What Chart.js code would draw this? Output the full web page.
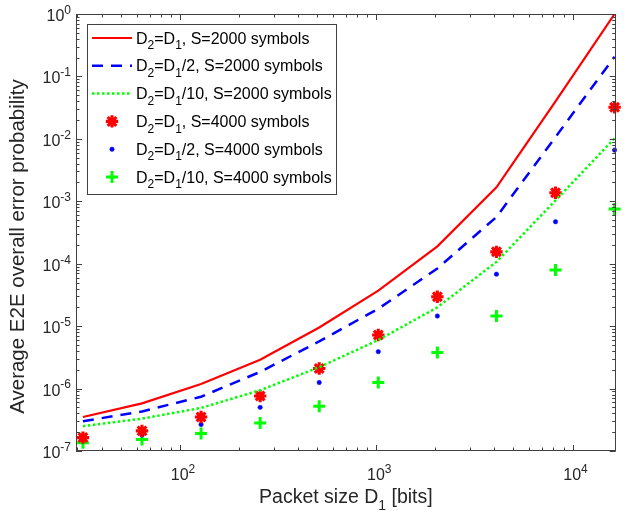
<!DOCTYPE html>
<html>
<head>
<meta charset="utf-8">
<script src="https://cdn.jsdelivr.net/npm/chart.js@4.4.1/dist/chart.umd.min.js"></script>
<style>
html,body{margin:0;padding:0;background:#fff;}
#wrap{width:625px;height:519px;position:relative;}
</style>
</head>
<body>
<div id="wrap"><canvas id="c" width="625" height="519"></canvas></div>
<script>
// ---- data ----
const packetSizes = [32, 64, 128, 256, 512, 1024, 2048, 4096, 8192, 16384];
const s2000Equal  = [3.5e-7, 5.8e-7, 1.18e-6, 2.9e-6, 9.5e-6, 3.7e-5, 1.9e-4, 1.67e-3, 4.0e-2, 1.0];
const s2000Half   = [3.0e-7, 4.3e-7, 7.4e-7, 1.85e-6, 5.7e-6, 1.9e-5, 8.4e-5, 5.6e-4, 1.07e-2, 0.207];
const s2000Tenth  = [2.5e-7, 3.3e-7, 4.9e-7, 9.4e-7, 2.2e-6, 6.0e-6, 2.0e-5, 1.07e-4, 1.03e-3, 1.02e-2];
const s4000Equal  = [1.64e-7, 2.1e-7, 3.5e-7, 7.6e-7, 2.1e-6, 7.2e-6, 2.95e-5, 1.55e-4, 1.37e-3, 3.2e-2];
const s4000Half   = [1.55e-7, 1.8e-7, 2.66e-7, 5.0e-7, 1.25e-6, 3.9e-6, 1.45e-5, 6.8e-5, 4.7e-4, 6.6e-3];
const s4000Tenth  = [1.35e-7, 1.53e-7, 1.9e-7, 2.8e-7, 5.2e-7, 1.25e-6, 3.8e-6, 1.46e-5, 7.9e-5, 7.5e-4];
const seriesLabels = [
  'D_2=D_1, S=2000 symbols',
  'D_2=D_1/2, S=2000 symbols',
  'D_2=D_1/10, S=2000 symbols',
  'D_2=D_1, S=4000 symbols',
  'D_2=D_1/2, S=4000 symbols',
  'D_2=D_1/10, S=4000 symbols'
];
const xTickExps = [2, 3, 4];
const yTickExps = [0, -1, -2, -3, -4, -5, -6, -7];
const xTitle = 'Packet size D_1 [bits]';
const yTitle = 'Average E2E overall error probability';

const FONT = '"Liberation Sans", Arial, Helvetica, sans-serif';
const AXC = '#404040';

function pts(arr){ return packetSizes.map((x,i)=>({x:x, y:arr[i]})); }

function parseRich(s){
  const segs=[]; let i=0, buf='';
  while(i<s.length){
    if(s[i]==='_'){ if(buf){segs.push({t:buf});buf='';} segs.push({t:s[i+1],sub:true}); i+=2; }
    else if(s[i]==='^' && s[i+1]==='{'){ if(buf){segs.push({t:buf});buf='';} const j=s.indexOf('}',i); segs.push({t:s.slice(i+2,j),sup:true}); i=j+1; }
    else { buf+=s[i]; i++; }
  }
  if(buf) segs.push({t:buf});
  return segs;
}
function richWidth(ctx, segs, size){
  let w=0;
  segs.forEach(sg=>{ ctx.font=((sg.sub||sg.sup)?Math.round(size*0.72):size)+'px '+FONT; w+=ctx.measureText(sg.t).width; });
  return w;
}
function drawRich(ctx, s, x, y, size, align){
  const segs=parseRich(s);
  const w=richWidth(ctx,segs,size);
  let cx = align==='center'? x-w/2 : align==='right'? x-w : x;
  ctx.textBaseline='alphabetic'; ctx.textAlign='left';
  segs.forEach(sg=>{
    const fs=(sg.sub||sg.sup)?Math.round(size*0.72):size;
    ctx.font=fs+'px '+FONT;
    const dy = sg.sub? size*0.35 : sg.sup? -size*0.45 : 0;
    ctx.fillText(sg.t, cx, y+dy);
    cx+=ctx.measureText(sg.t).width;
  });
}

const datasets = [
  {label:seriesLabels[0], data:pts(s2000Equal), borderColor:'#ff0000', backgroundColor:'#ff0000', borderWidth:2.2, pointRadius:0, showLine:true},
  {label:seriesLabels[1], data:pts(s2000Half), borderColor:'#0000ff', backgroundColor:'#0000ff', borderWidth:2.5, borderDash:[11,8], pointRadius:0, showLine:true},
  {label:seriesLabels[2], data:pts(s2000Tenth), borderColor:'#00ff00', backgroundColor:'#00ff00', borderWidth:2.5, borderDash:[2.5,2.5], pointRadius:0, showLine:true},
  {label:seriesLabels[3], data:pts(s4000Equal), borderColor:'#ff0000', backgroundColor:'#ff0000', showLine:false, pointStyle:'star', pointRadius:6.2, pointBorderWidth:3.1, clip:false},
  {label:seriesLabels[4], data:pts(s4000Half), borderColor:'#0000ff', backgroundColor:'#0000ff', showLine:false, pointStyle:'circle', pointRadius:2.2, pointBorderWidth:0.5, clip:false},
  {label:seriesLabels[5], data:pts(s4000Tenth), borderColor:'#00ff00', backgroundColor:'#00ff00', showLine:false, pointStyle:'cross', pointRadius:6, pointBorderWidth:3, clip:false}
];

const decor = {
  id:'decor',
  afterDraw(chart){
    const ctx=chart.ctx, a=chart.chartArea, xs=chart.scales.x, ys=chart.scales.y;
    ctx.save();
    ctx.strokeStyle=AXC; ctx.lineWidth=1;
    const L=a.left, R=a.right, T=a.top, B=a.bottom;
    function tick(x1,y1,x2,y2){ ctx.beginPath(); ctx.moveTo(x1,y1); ctx.lineTo(x2,y2); ctx.stroke(); }
    for(let e=1;e<=4;e++){
      for(let k=1;k<=9;k++){
        const v=k*Math.pow(10,e);
        if(v<xs.min||v>xs.max) continue;
        const px=Math.round(xs.getPixelForValue(v))+0.5;
        const len = k===1?6:3.5;
        tick(px,B,px,B-len); tick(px,T,px,T+len);
      }
    }
    for(let e=-7;e<=0;e++){
      for(let k=1;k<=9;k++){
        const v=k*Math.pow(10,e);
        if(v<ys.min*0.999||v>ys.max*1.001) continue;
        const py=Math.round(ys.getPixelForValue(v))+0.5;
        const len = k===1?6:3.5;
        tick(L,py,L+len,py); tick(R,py,R-len,py);
      }
    }
    ctx.strokeRect(Math.round(L)+0.5, Math.round(T)+0.5, Math.round(R-L)-1, Math.round(B-T)-1);
    ctx.fillStyle='#262626';
    xTickExps.forEach(e=>{
      const px=xs.getPixelForValue(Math.pow(10,e));
      drawRich(ctx,'10^{'+e+'}',px+3,B+29,16,'center');
    });
    yTickExps.forEach(e=>{
      const py=ys.getPixelForValue(Math.pow(10,e));
      drawRich(ctx,'10^{'+e+'}',L-5,py+7,16,'right');
    });
    drawRich(ctx,xTitle,(L+R)/2,B+52,19.5,'center');
    ctx.save();
    ctx.translate(24,(T+B)/2+14);
    ctx.rotate(-Math.PI/2);
    drawRich(ctx,yTitle,0,0,20.5,'center');
    ctx.restore();
    // legend
    const lx=87, ly=24, lw=249, lh=170;
    ctx.fillStyle='#fff'; ctx.fillRect(lx,ly,lw,lh);
    ctx.strokeStyle=AXC; ctx.lineWidth=1; ctx.strokeRect(lx+0.5,ly+0.5,lw,lh);
    const rowH=27.8, y0=ly+14;
    chart.data.datasets.forEach((ds,i)=>{
      const cy=y0+i*rowH;
      ctx.save();
      if(ds.showLine){
        ctx.strokeStyle=ds.borderColor; ctx.lineWidth=ds.borderWidth;
        ctx.setLineDash(ds.borderDash||[]);
        ctx.beginPath(); ctx.moveTo(92,cy); ctx.lineTo(132,cy); ctx.stroke();
      } else {
        ctx.strokeStyle=ds.borderColor; ctx.fillStyle=ds.backgroundColor;
        ctx.lineWidth=ds.pointBorderWidth;
        Chart.helpers.drawPoint(ctx,{pointStyle:ds.pointStyle,radius:ds.pointRadius,rotation:0,borderWidth:ds.pointBorderWidth},112,cy);
      }
      ctx.restore();
      ctx.fillStyle='#000';
      drawRich(ctx,ds.label,136,cy+5.5,16,'left');
    });
    ctx.restore();
  }
};

new Chart(document.getElementById('c'),{
  type:'line',
  data:{datasets:datasets},
  options:{
    responsive:false, animation:false, devicePixelRatio:1,
    layout:{padding:{top:14,right:4,left:0,bottom:0}},
    plugins:{legend:{display:false}, tooltip:{enabled:false}},
    elements:{line:{tension:0}},
    scales:{
      x:{type:'logarithmic', min:29.5, max:16600,
         ticks:{display:false}, grid:{display:false}, border:{display:false},
         afterFit(s){ s.height=68; }},
      y:{type:'logarithmic', min:1e-7, max:1,
         ticks:{display:false}, grid:{display:false}, border:{display:false},
         afterFit(s){ s.width=76; }}
    }
  },
  plugins:[decor]
});
</script>
</body>
</html>
